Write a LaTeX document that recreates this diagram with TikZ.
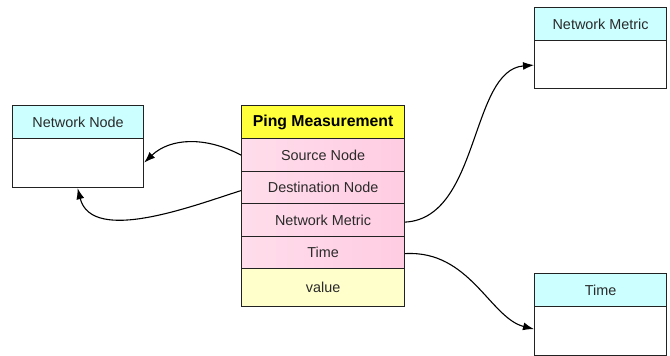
\documentclass[tikz,border=0pt]{standalone}
\usepackage{fontspec}
\setmainfont{Liberation Sans}
\usetikzlibrary{arrows.meta}
\definecolor{edge}{HTML}{222222}
\definecolor{ink}{HTML}{2A2A2A}
\definecolor{titlefill}{HTML}{FFFF3C}
\definecolor{pinkL}{HTML}{FFDDEB}
\definecolor{pinkR}{HTML}{FFCCE2}
\definecolor{valfill}{HTML}{FFFFCC}
\definecolor{cyanfill}{HTML}{CCFFFF}
\tikzset{
  x=1pt, y=-1pt,
  cell/.style={draw=edge, line width=1.2pt, anchor=north west, inner sep=0pt,
    minimum width=#1, text=ink, font=\fontsize{14.4}{16}\selectfont},
  title/.style={cell=163pt, fill=titlefill, minimum height=33pt,
    font=\fontsize{15.8}{18}\selectfont\bfseries, text=black},
  field/.style={cell=163pt, left color=pinkL, right color=pinkR, minimum height=33pt},
  valuecell/.style={cell=163pt, fill=valfill, minimum height=38pt},
  enthead/.style={cell=#1, fill=cyanfill, minimum height=33pt},
  entbody/.style={cell=#1, fill=white, minimum height=49pt},
  link/.style={draw=black, line width=1.1pt, -{Latex[length=11pt,width=8pt]}}
}
\begin{document}
\begin{tikzpicture}
\useasboundingbox (0,0) rectangle (670,356);
% central record
\node[title] (pm) at (241,105) {Ping Measurement};
\node[field] (src) at (241,138) {Source Node};
\node[field] (dst) at (241,170.5) {Destination Node};
\node[field] (met) at (241,203) {Network Metric};
\node[field] (tim) at (241,235.5) {Time};
\node[valuecell] (val) at (241,268) {value};
% referenced entities
\node[enthead=131pt] (nnh) at (12,105) {Network Node};
\node[entbody=131pt] (nnb) at (12,138) {};
\node[enthead=132pt] (nmh) at (534,7) {Network Metric};
\node[entbody=132pt, minimum height=48pt] (nmb) at (534,40) {};
\node[enthead=132pt] (tmh) at (534,273) {Time};
\node[entbody=132pt] (tmb) at (534,306) {};
% references
\draw[link] (src.west) .. controls (205,136) and (170,138) .. ([yshift=0.5pt]nnb.east);
\draw[link] ([yshift=-3pt]dst.west) .. controls (195,205) and (92,245) .. ([xshift=-0.5pt]nnb.south);
\draw[link] ([yshift=-2pt]met.east) .. controls (480,218) and (470,70) .. ([yshift=-0.5pt]nmb.west);
\draw[link] ([yshift=-1pt]tim.east) .. controls (470,250) and (490,318) .. ([yshift=2pt]tmb.west);
\end{tikzpicture}
\end{document}
